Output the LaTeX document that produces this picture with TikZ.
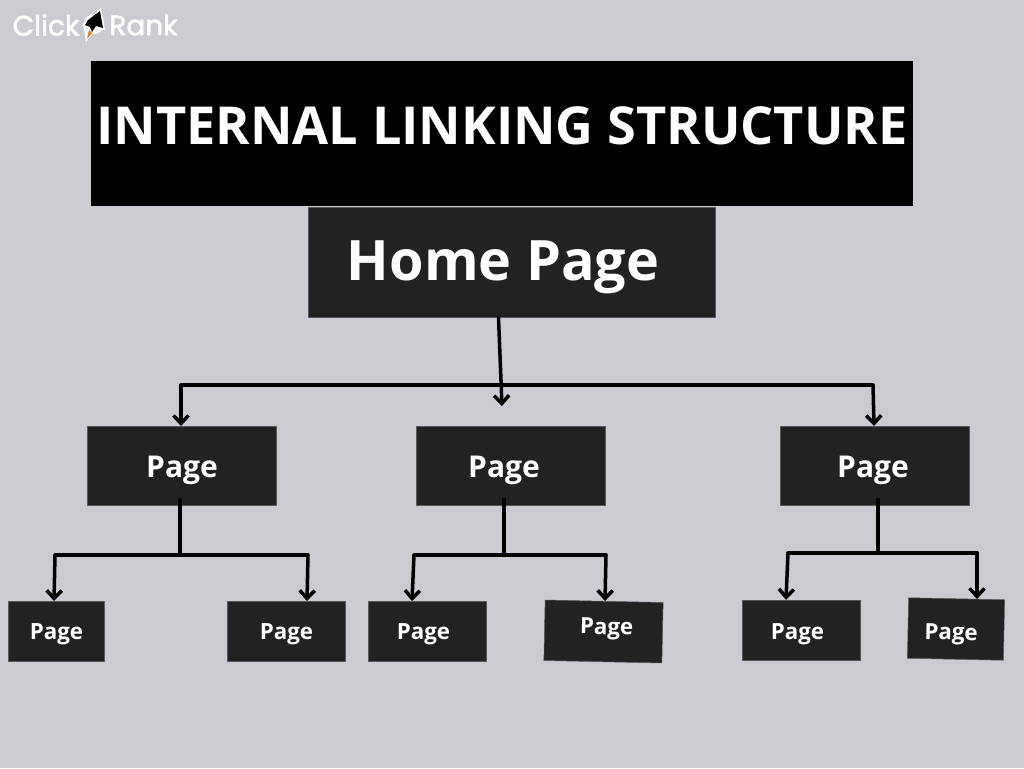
\documentclass[tikz,border=0pt]{standalone}
\usepackage{fontspec}
\setmainfont{Open Sans}
\newfontfamily\logofont{Poppins}[FakeBold=1.8]
\usetikzlibrary{arrows.meta}
\definecolor{pagebg}{HTML}{CBCCD2}
\definecolor{boxfill}{HTML}{222222}
\definecolor{flame}{HTML}{E8792B}
\tikzset{
  box/.style={fill=boxfill, draw=gray!70!black, line width=0.5pt, inner sep=0pt, outer sep=0pt},
  midbox/.style={box, minimum width=189pt, minimum height=79.5pt},
  smallbox/.style={box, minimum width=118pt, minimum height=60.5pt},
  boxtext/.style={text=white, font=\bfseries, inner sep=0pt},
  midtext/.style={boxtext, font=\fontsize{30}{30}\selectfont\bfseries},
  smalltext/.style={boxtext, font=\fontsize{22.3}{22.3}\selectfont\bfseries},
  logotext/.style={text=white, inner sep=0pt, font=\logofont\fontsize{28}{28}\selectfont},
  link/.style={line width=3.5pt, line cap=round, line join=round},
  linkarrow/.style={link, -{Straight Barb[length=8pt,width=15pt,line width=3.5pt]}}
}
\begin{document}
\begin{tikzpicture}[x=1pt, y=-1pt]
    % Background
    \fill[pagebg] (0,0) rectangle (1024,768);
    \useasboundingbox (0,0) rectangle (1024,768);
    % Logo
    \node[logotext] (clicktext) at (46,25) {Click};
    \node[logotext] (ranktext) at (143.5,25) {Rank};
    \fill[white] (94,24) circle (10);
    \fill[white] (101,8) -- (105,30) -- (96,29) -- (86,42) -- (83,24) -- cycle;
    \fill[black] (100,11) -- (103,28) -- (96,26) -- (92,32) -- (90,27) -- (85,25) -- (88,20) -- cycle;
    \fill[flame] (89,30) -- (92,33) -- (87,39) -- cycle;
    % Title
    \node[fill=black, minimum width=821.5pt, minimum height=145pt, inner sep=0pt, outer sep=0pt] (titlebox) at (501.75,133.5) {};
    \node[text=white, inner sep=0pt, font=\fontsize{52.3}{52.3}\selectfont\bfseries] (titletext) at (502,126) {INTERNAL LINKING STRUCTURE};
    % Home page
    \node[box, minimum width=407.5pt, minimum height=110.5pt] (home) at (511.75,262.25) {};
    \node[boxtext, font=\fontsize{55.7}{55.7}\selectfont\bfseries] (hometext) at (503,267.5) {Home Page};
    % Middle row
    \node[midbox] (page1) at (181.25,465.75) {};
    \node[midtext] (page1text) at (182,470) {Page};
    \node[midbox] (page2) at (510.25,465.75) {};
    \node[midtext] (page2text) at (504,470) {Page};
    \node[midbox] (page3) at (874.25,465.75) {};
    \node[midtext] (page3text) at (873,470) {Page};
    % Bottom row
    \node[smallbox, minimum width=96pt] (leaf1) at (56.25,631.25) {};
    \node[smalltext] (leaf1text) at (56.5,634.5) {Page};
    \node[smallbox] (leaf2) at (285.75,631.25) {};
    \node[smalltext] (leaf2text) at (286.5,634.5) {Page};
    \node[smallbox] (leaf3) at (426.75,631.25) {};
    \node[smalltext] (leaf3text) at (423.5,634.5) {Page};
    \node[smallbox, rotate=-1.2] (leaf4) at (603.5,631.5) {};
    \node[smalltext, rotate=-1.2] (leaf4text) at (606.5,629) {Page};
    \node[smallbox] (leaf5) at (800.75,630) {};
    \node[smalltext] (leaf5text) at (797.5,634) {Page};
    \node[smallbox, minimum width=96pt, rotate=-1.2] (leaf6) at (956,629) {};
    \node[smalltext, rotate=-1.2] (leaf6text) at (951,634.5) {Page};
    % Junctions
    \coordinate (homeend) at (502,406);
    \coordinate (busL) at (181,385);
    \coordinate (busR) at (873,385);
    \coordinate (bus1) at (180,555);
    \coordinate (bus1L) at (55,555);
    \coordinate (bus1R) at (308,555);
    \coordinate (bus2) at (504,555);
    \coordinate (bus2L) at (414,555);
    \coordinate (bus2R) at (606,555);
    \coordinate (bus3) at (878,553);
    \coordinate (bus3L) at (788,553);
    \coordinate (bus3R) at (977,553);
    % Links from home page
    \draw[linkarrow] (home.south -| 498.5,0) -- (homeend);
    \draw[link] (busL) -- (busR);
    \draw[linkarrow] (busL) -- (page1.north -| 181,0);
    \draw[linkarrow] (busR) -- (page3.north -| 874,0);
    % Links from first page
    \draw[link] (bus1 |- page1.south) ++(0,-6) -- (bus1);
    \draw[link] (bus1L) -- (bus1R);
    \draw[linkarrow] (bus1L) -- (leaf1.north -| 54,0);
    \draw[linkarrow] (bus1R) -- (leaf2.north -| 307,0);
    % Links from second page
    \draw[link] (bus2 |- page2.south) ++(0,-6) -- (bus2);
    \draw[link] (bus2L) -- (bus2R);
    \draw[linkarrow] (bus2L) -- (leaf3.north -| 412,0);
    \draw[linkarrow] (bus2R) -- (605,601);
    % Links from third page
    \draw[link] (bus3 |- page3.south) ++(0,-6) -- (bus3);
    \draw[link] (bus3L) -- (bus3R);
    \draw[linkarrow] (bus3L) -- (leaf5.north -| 786,0);
    \draw[linkarrow] (bus3R) -- (977,599);
\end{tikzpicture}
\end{document}
